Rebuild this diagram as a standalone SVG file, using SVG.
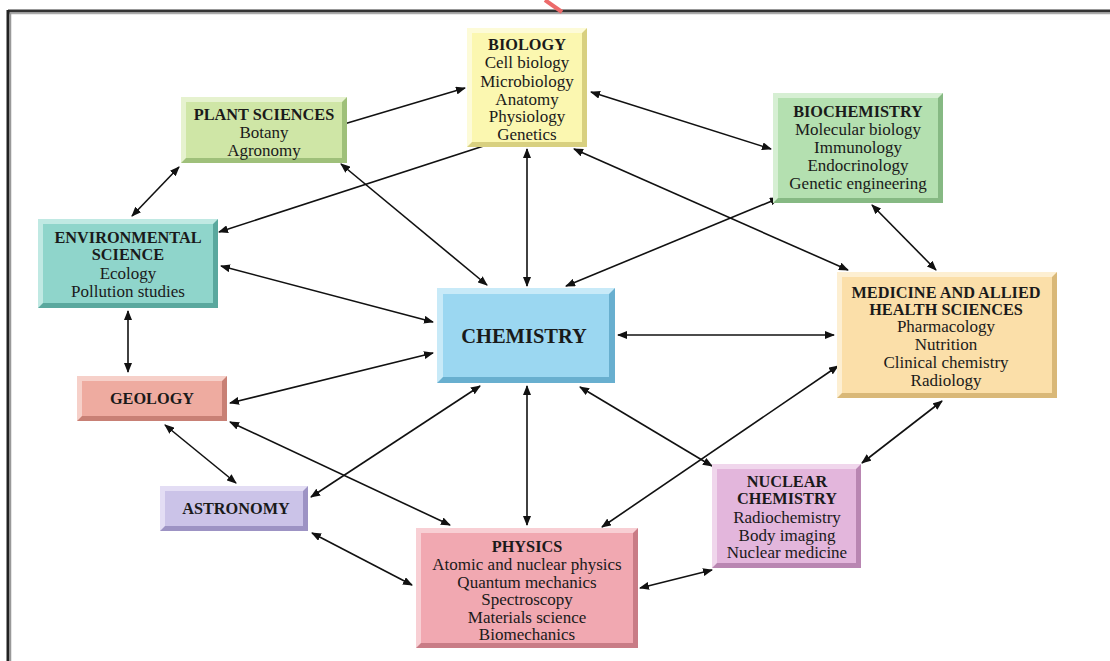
<svg xmlns="http://www.w3.org/2000/svg" width="1110" height="661" viewBox="0 0 1110 661">
<defs>
<marker id="ah" viewBox="0 0 10 8" refX="9" refY="4" markerWidth="10" markerHeight="8" markerUnits="userSpaceOnUse" orient="auto-start-reverse">
<path d="M0,0 L10,4 L0,8 Z" fill="#111"/>
</marker>
</defs>
<style>
.t{font-family:"Liberation Serif","Times New Roman",serif;font-size:17px;fill:#1a1a1a;text-anchor:middle}
.h{font-family:"Liberation Serif","Times New Roman",serif;font-size:16.3px;font-weight:bold;fill:#1a1a1a;text-anchor:middle}
.c{stroke:#111;stroke-width:1.6;fill:none;marker-start:url(#ah);marker-end:url(#ah)}
</style>
<rect width="1110" height="661" fill="#fff"/>
<g id="frame">
<line x1="8" y1="11" x2="1110" y2="11" stroke="#333" stroke-width="3"/>
<line x1="7" y1="13.5" x2="1110" y2="13.5" stroke="#aaa" stroke-width="1.5"/>
<line x1="8" y1="10" x2="8" y2="661" stroke="#222" stroke-width="3"/>
<line x1="10.5" y1="13" x2="10.5" y2="661" stroke="#999" stroke-width="1.5"/>
<line x1="545" y1="0" x2="562" y2="12" stroke="#ec6a6a" stroke-width="4"/>
</g>
<g id="connectors">
<line class="c" x1="334" y1="127" x2="465" y2="88"/>
<line class="c" x1="591" y1="92" x2="771" y2="149"/>
<line class="c" x1="179" y1="167" x2="132" y2="216"/>
<line class="c" x1="219" y1="232" x2="499" y2="141"/>
<line class="c" x1="341" y1="164" x2="487" y2="285"/>
<line class="c" x1="527" y1="149" x2="527" y2="286"/>
<line class="c" x1="574" y1="149" x2="848" y2="270"/>
<line class="c" x1="779" y1="198" x2="566" y2="286"/>
<line class="c" x1="872" y1="205" x2="936" y2="270"/>
<line class="c" x1="221" y1="266" x2="433" y2="322"/>
<line class="c" x1="618" y1="335" x2="834" y2="335"/>
<line class="c" x1="128" y1="311" x2="128" y2="372"/>
<line class="c" x1="230" y1="403" x2="433" y2="353"/>
<line class="c" x1="165" y1="425" x2="236" y2="483"/>
<line class="c" x1="230" y1="422" x2="450" y2="525"/>
<line class="c" x1="311" y1="497" x2="480" y2="386"/>
<line class="c" x1="312" y1="533" x2="412" y2="585"/>
<line class="c" x1="527" y1="386" x2="527" y2="525"/>
<line class="c" x1="580" y1="387" x2="712" y2="466"/>
<line class="c" x1="838" y1="366" x2="602" y2="527"/>
<line class="c" x1="942" y1="401" x2="862" y2="463"/>
<line class="c" x1="640" y1="588" x2="712" y2="570"/>
</g>
<g id="biology">
<rect x="467" y="28" width="120" height="119" fill="#d8d080"/>
<polygon points="467,28 587,28 582,33 472,33 472,142 467,147" fill="#fdfbd8"/>
<rect x="472" y="33" width="110" height="109" fill="#fbf7b0"/>
<text class="h" x="527" y="50">BIOLOGY</text>
<text class="t" x="527" y="68">Cell biology</text>
<text class="t" x="527" y="87">Microbiology</text>
<text class="t" x="527" y="105">Anatomy</text>
<text class="t" x="527" y="122">Physiology</text>
<text class="t" x="527" y="140">Genetics</text>
</g>
<g id="plant">
<rect x="181" y="97" width="166" height="66" fill="#9fc07a"/>
<polygon points="181,97 347,97 342,102 186,102 186,158 181,163" fill="#e6f2cf"/>
<rect x="186" y="102" width="156" height="56" fill="#cfe6a6"/>
<text class="h" x="264" y="120">PLANT SCIENCES</text>
<text class="t" x="264" y="138">Botany</text>
<text class="t" x="264" y="156">Agronomy</text>
</g>
<g id="biochemistry">
<rect x="773" y="93" width="170" height="110" fill="#86b983"/>
<polygon points="773,93 943,93 938,98 778,98 778,198 773,203" fill="#d6efd3"/>
<rect x="778" y="98" width="160" height="100" fill="#b4e0b0"/>
<text class="h" x="858" y="117">BIOCHEMISTRY</text>
<text class="t" x="858" y="135">Molecular biology</text>
<text class="t" x="858" y="153">Immunology</text>
<text class="t" x="858" y="171">Endocrinology</text>
<text class="t" x="858" y="189">Genetic engineering</text>
</g>
<g id="environmental">
<rect x="38" y="219" width="180" height="89" fill="#5aa89e"/>
<polygon points="38,219 218,219 213,224 43,224 43,303 38,308" fill="#c0e9e3"/>
<rect x="43" y="224" width="170" height="79" fill="#8fd5cb"/>
<text class="h" x="128" y="243">ENVIRONMENTAL</text>
<text class="h" x="128" y="260">SCIENCE</text>
<text class="t" x="128" y="279">Ecology</text>
<text class="t" x="128" y="297">Pollution studies</text>
</g>
<g id="chemistry">
<rect x="437" y="288" width="178" height="95" fill="#68afcf"/>
<polygon points="437,288 615,288 609,294 443,294 443,377 437,383" fill="#c8eaf8"/>
<rect x="443" y="294" width="166" height="83" fill="#9bd7f1"/>
<text class="h" x="524" y="343" style="font-size:20.5px">CHEMISTRY</text>
</g>
<g id="medicine">
<rect x="837" y="272" width="220" height="126" fill="#d9b878"/>
<polygon points="837,272 1057,272 1052,277 842,277 842,393 837,398" fill="#fdefd2"/>
<rect x="842" y="277" width="210" height="116" fill="#fbdfa9"/>
<text class="h" x="946" y="298">MEDICINE AND ALLIED</text>
<text class="h" x="946" y="315">HEALTH SCIENCES</text>
<text class="t" x="946" y="332">Pharmacology</text>
<text class="t" x="946" y="350">Nutrition</text>
<text class="t" x="946" y="368">Clinical chemistry</text>
<text class="t" x="946" y="386">Radiology</text>
</g>
<g id="geology">
<rect x="77" y="376" width="150" height="45" fill="#c88075"/>
<polygon points="77,376 227,376 222,381 82,381 82,416 77,421" fill="#f6d0c9"/>
<rect x="82" y="381" width="140" height="35" fill="#eeaba0"/>
<text class="h" x="152" y="404">GEOLOGY</text>
</g>
<g id="astronomy">
<rect x="160" y="486" width="148" height="45" fill="#9d93c4"/>
<polygon points="160,486 308,486 303,491 165,491 165,526 160,531" fill="#e3ddf4"/>
<rect x="165" y="491" width="138" height="35" fill="#cbc3e8"/>
<text class="h" x="236" y="514">ASTRONOMY</text>
</g>
<g id="physics">
<rect x="416" y="528" width="222" height="120" fill="#c97c86"/>
<polygon points="416,528 638,528 633,533 421,533 421,643 416,648" fill="#f8cfd4"/>
<rect x="421" y="533" width="212" height="110" fill="#f1a8b1"/>
<text class="h" x="527" y="552">PHYSICS</text>
<text class="t" x="527" y="570">Atomic and nuclear physics</text>
<text class="t" x="527" y="588">Quantum mechanics</text>
<text class="t" x="527" y="605">Spectroscopy</text>
<text class="t" x="527" y="623">Materials science</text>
<text class="t" x="527" y="640">Biomechanics</text>
</g>
<g id="nuclear">
<rect x="712" y="464" width="149" height="104" fill="#b986b2"/>
<polygon points="712,464 861,464 856,469 717,469 717,563 712,568" fill="#f0d6ec"/>
<rect x="717" y="469" width="139" height="94" fill="#e3b6dc"/>
<text class="h" x="787" y="487">NUCLEAR</text>
<text class="h" x="787" y="504">CHEMISTRY</text>
<text class="t" x="787" y="523">Radiochemistry</text>
<text class="t" x="787" y="541">Body imaging</text>
<text class="t" x="787" y="558">Nuclear medicine</text>
</g>
</svg>
